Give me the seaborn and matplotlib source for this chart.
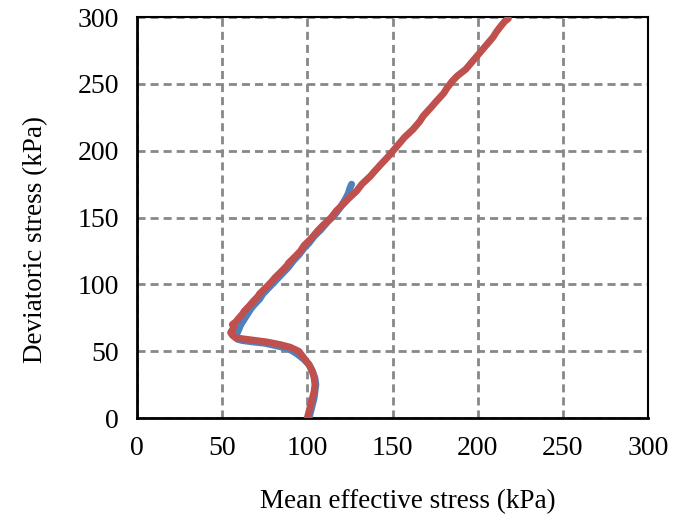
import matplotlib
matplotlib.use("Agg")
import matplotlib.pyplot as plt
import seaborn as sns
import pandas as pd

# Red series (full test)
red_p = [100, 101, 102, 103, 104, 104.5, 104, 103, 101, 98, 95, 90, 84, 76, 70, 64, 58, 56, 55, 56, 57, 56,
         58, 60, 62, 63, 66, 68, 71, 72, 76, 79, 81, 85, 88, 89, 93, 96, 98, 102, 106, 109, 114, 117,
         121, 124, 129, 132, 137, 139, 144, 147, 151, 155, 157, 162, 166, 168, 173, 175, 180, 182,
         185, 188, 191, 193, 197, 199, 203, 205, 209, 211, 214, 216, 218]
red_q = [0, 5, 10, 15, 20, 25, 30, 35, 40, 45, 50, 53, 55, 57, 58, 59, 60, 62, 64, 66, 68, 70,
         72, 75, 78, 80, 84, 87, 91, 93, 98, 102, 105, 110, 114, 116, 121, 125, 129, 134, 140, 144, 150, 155,
         160, 164, 170, 175, 181, 184, 191, 195, 201, 207, 210, 216, 222, 226, 233, 236, 243, 247,
         252, 256, 259, 261, 267, 270, 276, 279, 285, 289, 294, 297, 299]

# Blue series (shorter test)
blue_p = [101, 102, 103, 104, 104.5, 105, 104.5, 103, 101, 98, 94, 89, 82, 75, 68, 62, 59, 58, 59, 60,
          61, 63, 65, 67, 69, 72, 74, 77, 80, 83, 86, 89, 92, 95, 98, 101, 104, 108, 112, 116, 119,
          122, 124, 125, 126]
blue_q = [0, 5, 10, 15, 20, 25, 30, 35, 40, 44, 48, 52, 54, 56, 57, 58, 59, 61, 64, 67,
          70, 74, 78, 82, 85, 89, 93, 97, 101, 105, 109, 113, 118, 122, 127, 131, 136, 141, 147, 152, 157,
          163, 168, 172, 175]

ticks = [0, 50, 100, 150, 200, 250, 300]

sns.set_theme(style="white")
plt.rcParams['font.family'] = ['Liberation Serif', 'DejaVu Serif']

fig = plt.figure(figsize=(6.88, 5.2), dpi=100)
ax = fig.add_axes([0.199, 0.196, 0.743, 0.771])

df_b = pd.DataFrame({"p": blue_p, "q": blue_q})
df_r = pd.DataFrame({"p": red_p, "q": red_q})
sns.lineplot(data=df_b, x="p", y="q", sort=False, estimator=None, ax=ax,
             color="#4F81BD", linewidth=5, solid_capstyle="round", solid_joinstyle="round", zorder=3)
sns.lineplot(data=df_r, x="p", y="q", sort=False, estimator=None, ax=ax,
             color="#C0504D", linewidth=5, solid_capstyle="round", solid_joinstyle="round", zorder=4)

ax.set_xlim(0, 300)
ax.set_ylim(0, 300)
ax.set_xticks(ticks)
ax.set_yticks(ticks)
ax.set_xticklabels([str(t) for t in ticks])
ax.set_yticklabels([str(t) for t in ticks])
ax.grid(True, color="#888888", linestyle=(0, (2.9, 1.8)), linewidth=2)
ax.tick_params(axis="both", labelsize=20, colors="black", direction="out", width=1.5, length=5, pad=8)
ax.tick_params(axis="y", length=6, pad=7)
for side in ["left", "bottom"]:
    ax.spines[side].set_color("black")
    ax.spines[side].set_linewidth(2)
for side in ["top", "right"]:
    ax.spines[side].set_color("black")
    ax.spines[side].set_linewidth(1.5)

ax.set_xlabel("Mean effective stress (kPa)", fontsize=19.5, color="black")
ax.set_ylabel("Deviatoric stress (kPa)", fontsize=19.5, color="black")
ax.xaxis.set_label_coords(0.53, -0.177)
ax.yaxis.set_label_coords(-0.174, 0.446)

fig.savefig("out.png", dpi=100)
